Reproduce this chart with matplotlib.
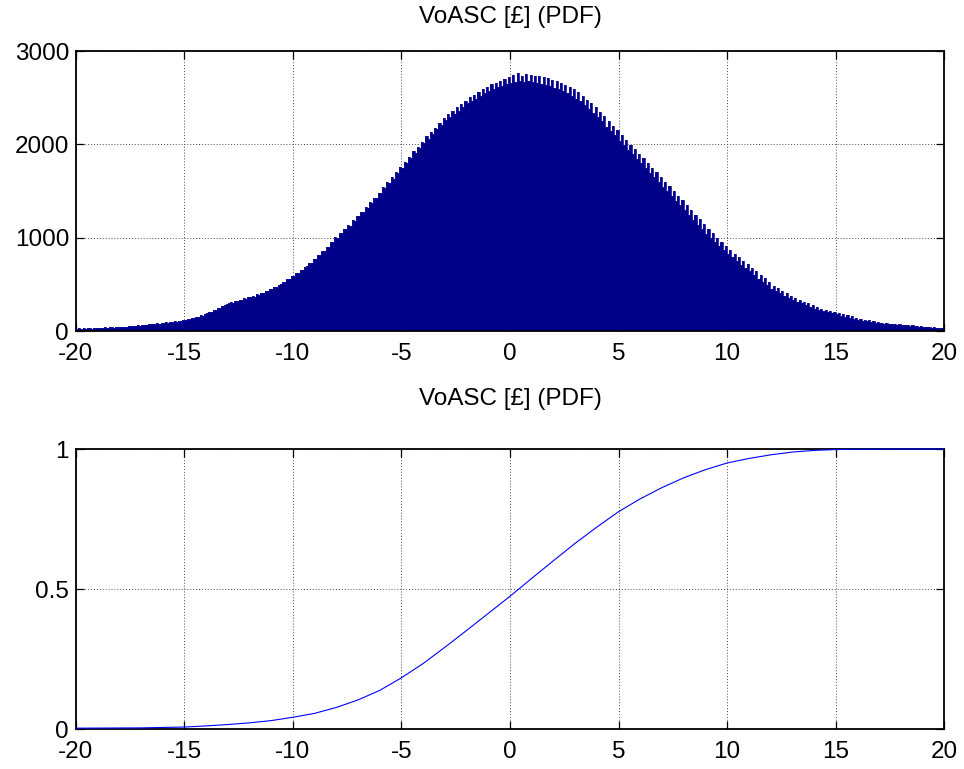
import numpy as np
import matplotlib
matplotlib.use("Agg")
import matplotlib.pyplot as plt

# ---------------- data ----------------
# histogram: bin width 0.1 from -20 to 20 (one row per unit interval)
bin_start = -20.0
bin_width = 0.1
hist_counts = [
    24, 28, 23, 29, 25, 30, 31, 26, 33, 30,
    34, 36, 31, 38, 36, 39, 41, 37, 44, 42,
    46, 45, 48, 47, 54, 49, 57, 55, 59, 58,
    60, 68, 63, 71, 70, 78, 73, 82, 80, 88,
    86, 95, 89, 99, 96, 105, 98, 110, 106, 116,
    114, 125, 124, 139, 136, 152, 150, 168, 166, 185,
    188, 204, 208, 226, 224, 249, 246, 270, 274, 293,
    298, 314, 302, 322, 320, 335, 332, 350, 346, 365,
    360, 380, 368, 394, 390, 409, 405, 426, 428, 447,
    446, 470, 474, 498, 500, 528, 530, 555, 556, 585,
    586, 618, 622, 652, 658, 690, 694, 726, 732, 768,
    775, 815, 815, 860, 862, 905, 905, 952, 950, 1002,
    1000, 1052, 1045, 1098, 1090, 1138, 1128, 1186, 1178, 1230,
    1228, 1280, 1276, 1330, 1322, 1380, 1370, 1430, 1420, 1482,
    1475, 1540, 1530, 1592, 1585, 1648, 1632, 1702, 1690, 1755,
    1748, 1812, 1800, 1868, 1852, 1925, 1908, 1975, 1960, 2030,
    2015, 2085, 2062, 2135, 2110, 2180, 2160, 2232, 2205, 2280,
    2262, 2330, 2298, 2360, 2328, 2400, 2362, 2430, 2395, 2468,
    2440, 2505, 2468, 2530, 2490, 2560, 2515, 2590, 2545, 2615,
    2570, 2645, 2595, 2660, 2610, 2680, 2628, 2705, 2645, 2720,
    2660, 2740, 2672, 2760, 2680, 2735, 2665, 2750, 2680, 2745,
    2668, 2735, 2660, 2730, 2650, 2725, 2640, 2710, 2625, 2690,
    2605, 2675, 2595, 2660, 2570, 2640, 2548, 2615, 2520, 2590,
    2490, 2560, 2462, 2515, 2420, 2480, 2380, 2440, 2340, 2395,
    2290, 2350, 2245, 2300, 2190, 2250, 2145, 2200, 2095, 2150,
    2040, 2095, 1990, 2045, 1940, 1995, 1895, 1950, 1845, 1900,
    1795, 1850, 1745, 1800, 1695, 1750, 1645, 1700, 1595, 1650,
    1545, 1600, 1495, 1550, 1445, 1500, 1395, 1450, 1345, 1400,
    1292, 1345, 1240, 1296, 1192, 1245, 1140, 1196, 1092, 1145,
    1040, 1090, 995, 1045, 950, 1000, 908, 955, 865, 912,
    825, 868, 788, 830, 748, 792, 712, 755, 675, 718,
    638, 678, 600, 640, 562, 600, 525, 565, 490, 528,
    452, 482, 428, 456, 405, 430, 380, 405, 355, 380,
    332, 356, 314, 336, 296, 315, 276, 295, 258, 275,
    236, 252, 226, 240, 212, 228, 200, 216, 190, 204,
    178, 190, 166, 180, 155, 168, 143, 156, 132, 142,
    120, 130, 112, 122, 104, 113, 96, 104, 88, 96,
    82, 88, 78, 84, 74, 80, 71, 77, 67, 72,
    63, 69, 59, 65, 55, 61, 51, 57, 48, 53,
    44, 48, 40, 45, 36, 41, 33, 37, 29, 31,
]

# cumulative curve
cdf_x = [-20, -17, -15, -14, -13, -12, -11, -10, -9, -8, -7, -6, -5, -4, -3,
         -2, -1, 0, 1, 2, 3, 4, 5, 6, 7, 8, 9, 10, 11, 12, 13, 14, 15, 16,
         18, 20]
cdf_y = [0.003, 0.004, 0.007, 0.011, 0.016, 0.022, 0.030, 0.042, 0.056, 0.077,
         0.104, 0.138, 0.183, 0.234, 0.292, 0.352, 0.413, 0.474, 0.538, 0.601,
         0.663, 0.721, 0.776, 0.822, 0.862, 0.897, 0.926, 0.950, 0.966, 0.979,
         0.989, 0.995, 0.998, 0.999, 1.0, 1.0]

title_text = "VoASC [£] (PDF)"
x_ticks = [-20, -15, -10, -5, 0, 5, 10, 15, 20]
top_yticks = [0, 1000, 2000, 3000]
bot_yticks = [0, 0.5, 1]
bot_yticklabels = ["0", "0.5", "1"]

# ---------------- style ----------------
plt.rcParams['font.family'] = ['Liberation Sans', 'DejaVu Sans']
FS = 17.5

W, H = 964, 769
fig = plt.figure(figsize=(W / 100, H / 100), dpi=100)
L, R = 76 / W, 944 / W
ax1 = fig.add_axes([L, 1 - 331 / H, R - L, 280 / H])
ax2 = fig.add_axes([L, 1 - 729 / H, R - L, 280 / H])

def style(ax):
    ax.set_axisbelow(True)
    ax.grid(True, color='0.3', linestyle=(0, (1, 2)), linewidth=0.7)
    for s in ax.spines.values():
        s.set_linewidth(1.3)
        s.set_color('black')
    ax.tick_params(direction='in', length=6, width=0.9, top=True, right=True,
                   labelsize=FS, colors='black')
    ax.tick_params(axis='x', pad=9)
    ax.tick_params(axis='y', pad=5)
    ax.set_xlim(-20, 20)
    ax.set_xticks(x_ticks)
    ax.set_xticklabels([str(t) for t in x_ticks])

# top: histogram (filled stairs, no gaps between bins)
edges = bin_start + bin_width * np.arange(len(hist_counts) + 1)
ax1.stairs(hist_counts, edges, fill=True, color='#000088', zorder=2)
ax1.stairs(hist_counts, edges, fill=False, color='#10109a', linewidth=0.6, zorder=2)
style(ax1)
ax1.set_ylim(0, 3000)
ax1.set_yticks(top_yticks)
ax1.set_yticklabels([str(t) for t in top_yticks])
ax1.set_title(title_text, fontsize=FS, pad=20)

# bottom: cumulative
ax2.plot(cdf_x, cdf_y, color='#0000ff', linewidth=0.8, zorder=3, clip_on=False)
style(ax2)
ax2.set_ylim(0, 1)
ax2.set_yticks(bot_yticks)
ax2.set_yticklabels(bot_yticklabels)
ax2.set_title(title_text, fontsize=FS, pad=32)

fig.savefig("out.png", dpi=100)
